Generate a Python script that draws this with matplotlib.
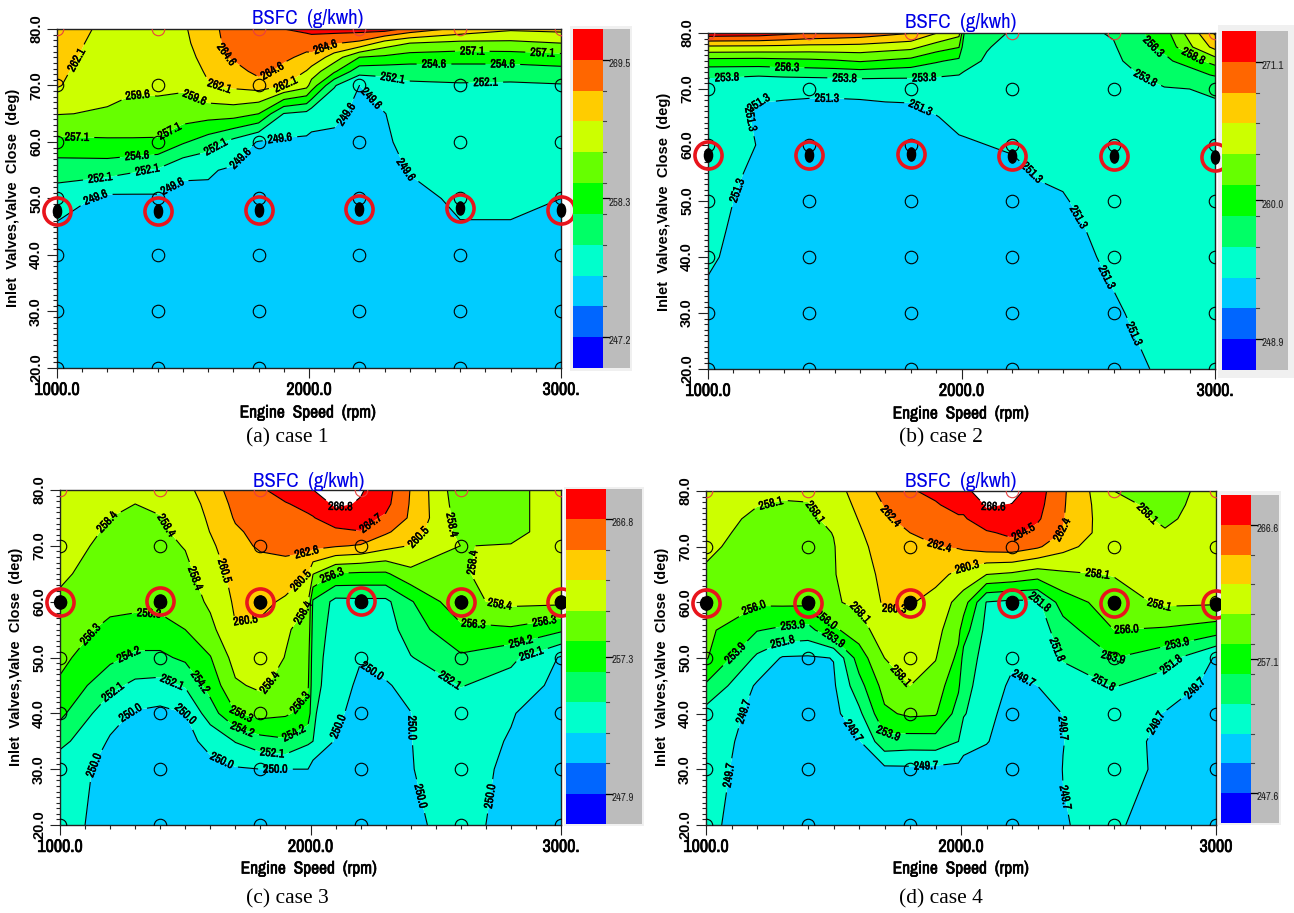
import numpy as np
import matplotlib
matplotlib.use("Agg")
import matplotlib.pyplot as plt
import matplotlib.patheffects as pe
from matplotlib.markers import MarkerStyle
from matplotlib.patches import Rectangle
from matplotlib.transforms import Affine2D

NARROW = ['Archivo Narrow', 'Roboto Condensed', 'Liberation Sans Narrow', 'Liberation Sans', 'DejaVu Sans']
plt.rcParams['font.family'] = NARROW

W, H = 1294, 913

speed = [1000, 1200, 1300, 1400, 1500, 1600, 1700, 1800, 1900, 1990, 2010, 2100, 2200, 2300, 2400, 2600, 2800, 3000]
angle = [20, 30, 35, 40, 45, 50, 55, 60, 65, 70, 72.5, 75, 77.5, 80]
grid_speed = [1000, 1400, 1800, 2200, 2600, 3000]
grid_angle = [20, 30, 40, 50, 60, 70, 80]

band_colors = ['#0000ff', '#0066ff', '#00ccff', '#00ffcc', '#00ff66', '#00ff00',
               '#66ff00', '#ccff00', '#ffcc00', '#ff6600', '#ff0000']

# values listed per engine speed, from 20 deg up to 80 deg
bsfc_a = [
    [248.6, 248.7, 248.8, 248.9, 249.3, 250.9, 253.1, 256.5, 259.7, 262.3, 262.6, 262.9, 263.2, 263.5],
    [248.6, 248.6, 248.6, 248.6, 248.9, 249.0, 253.1, 256.7, 259.4, 260.2, 260.6, 261.0, 261.2, 261.5],
    [248.6, 248.6, 248.6, 248.6, 248.9, 249.1, 252.4, 256.8, 258.8, 260.0, 260.4, 260.8, 260.9, 260.9],
    [248.6, 248.6, 248.6, 248.7, 248.9, 249.2, 251.8, 256.8, 258.6, 260.2, 260.5, 260.6, 260.6, 260.4],
    [248.6, 248.6, 248.6, 248.6, 248.8, 249.1, 249.9, 254.9, 258.4, 260.0, 260.5, 260.9, 261.3, 261.7],
    [248.6, 248.6, 248.6, 248.6, 248.8, 249.2, 249.8, 253.3, 258.2, 261.9, 262.5, 263.2, 263.9, 263.9],
    [248.6, 248.6, 248.6, 248.6, 248.7, 248.9, 249.3, 251.3, 258.2, 262.6, 263.3, 265.0, 265.2, 265.5],
    [248.6, 248.6, 248.6, 248.7, 248.8, 248.9, 249.0, 249.4, 257.1, 263.2, 265.5, 265.7, 266.0, 266.5],
    [248.6, 248.6, 248.6, 248.6, 248.7, 248.8, 248.9, 249.2, 252.0, 262.1, 263.8, 265.1, 266.0, 267.0],
    [248.6, 248.6, 248.6, 248.7, 248.7, 248.8, 248.9, 249.1, 251.4, 260.4, 262.0, 264.0, 265.6, 267.6],
    [248.6, 248.6, 248.6, 248.7, 248.7, 248.8, 248.9, 249.1, 250.5, 258.5, 261.0, 264.0, 265.7, 267.8],
    [248.6, 248.6, 248.6, 248.6, 248.7, 248.7, 248.8, 249.2, 250.0, 252.3, 257.5, 260.9, 264.8, 268.0],
    [248.6, 248.6, 248.6, 248.6, 248.7, 248.7, 248.7, 248.8, 249.2, 249.6, 253.0, 257.1, 264.0, 268.0],
    [248.6, 248.6, 248.7, 248.7, 248.8, 248.9, 249.0, 249.4, 249.55, 250.6, 253.0, 256.6, 261.0, 268.2],
    [248.6, 248.6, 248.7, 248.7, 248.8, 249.1, 249.7, 250.0, 250.5, 251.6, 253.2, 255.9, 259.6, 266.3],
    [248.6, 248.7, 248.8, 248.9, 249.5, 249.9, 250.2, 250.5, 250.9, 251.8, 253.4, 255.7, 258.9, 264.0],
    [248.7, 248.8, 248.9, 249.0, 249.5, 249.9, 250.2, 250.5, 250.9, 251.7, 253.3, 255.8, 259.0, 262.5],
    [248.7, 248.8, 248.9, 249.0, 249.2, 249.6, 250.0, 250.4, 250.9, 251.9, 253.7, 256.2, 259.6, 262.8],
]
bsfc_b = [
    [250.6, 251.0, 251.2, 251.5, 251.7, 251.9, 252.0, 252.1, 252.3, 252.8, 254.1, 257.9, 263.2, 270.3],
    [250.3, 250.4, 250.5, 250.6, 250.6, 250.7, 251.0, 251.25, 251.1, 251.5, 254.0, 257.8, 263.1, 270.0],
    [250.2, 250.3, 250.4, 250.5, 250.5, 250.6, 250.8, 251.0, 251.0, 251.5, 254.2, 258.0, 263.0, 269.3],
    [250.2, 250.3, 250.3, 250.4, 250.4, 250.5, 250.6, 250.7, 250.9, 251.5, 254.3, 258.2, 262.8, 268.6],
    [250.2, 250.3, 250.3, 250.4, 250.4, 250.4, 250.5, 250.6, 250.8, 251.55, 254.4, 258.5, 262.8, 268.2],
    [250.2, 250.3, 250.3, 250.4, 250.4, 250.4, 250.5, 250.6, 250.8, 251.6, 254.6, 259.0, 262.7, 267.8],
    [250.2, 250.2, 250.3, 250.3, 250.3, 250.4, 250.4, 250.5, 250.6, 251.9, 254.4, 258.5, 262.3, 267.0],
    [250.1, 250.2, 250.2, 250.3, 250.3, 250.3, 250.4, 250.4, 250.5, 252.1, 254.3, 258.0, 261.9, 266.3],
    [250.1, 250.1, 250.2, 250.2, 250.3, 250.3, 250.4, 250.6, 251.2, 252.7, 254.0, 256.6, 260.0, 263.8],
    [250.0, 250.1, 250.1, 250.2, 250.2, 250.3, 250.4, 250.9, 252.0, 253.2, 253.8, 255.7, 258.9, 262.0],
    [250.0, 250.1, 250.1, 250.2, 250.2, 250.3, 250.4, 251.0, 252.0, 253.1, 253.6, 254.4, 254.8, 256.4],
    [249.9, 250.0, 250.1, 250.2, 250.3, 250.5, 250.8, 251.3, 252.0, 252.8, 253.2, 253.6, 253.9, 254.5],
    [249.8, 250.0, 250.1, 250.3, 250.5, 250.7, 250.9, 251.5, 252.0, 252.6, 252.8, 253.0, 253.3, 253.6],
    [249.9, 250.2, 250.3, 250.5, 250.7, 251.0, 251.4, 251.8, 252.1, 252.5, 252.7, 252.8, 253.0, 253.2],
    [250.0, 250.3, 250.5, 250.7, 250.9, 251.2, 251.5, 251.8, 252.1, 252.4, 252.5, 252.7, 252.9, 253.0],
    [250.8, 251.1, 251.35, 251.6, 251.8, 252.0, 252.2, 252.4, 252.7, 253.0, 253.2, 253.4, 253.6, 254.0],
    [251.5, 252.0, 252.2, 252.4, 252.6, 252.8, 253.0, 253.2, 253.4, 253.7, 254.4, 255.6, 257.0, 257.8],
    [252.3, 252.7, 252.9, 253.0, 253.1, 253.2, 253.3, 253.4, 253.6, 253.9, 256.5, 259.8, 264.5, 266.5],
]
bsfc_c = [
    [250.6, 250.7, 252.7, 254.7, 256.0, 256.8, 257.4, 258.1, 258.7, 259.0, 259.2, 259.4, 259.7, 260.0],
    [249.4, 249.6, 249.8, 250.7, 252.7, 254.7, 255.8, 256.9, 257.5, 258.0, 258.2, 258.4, 258.8, 259.3],
    [249.2, 249.4, 249.5, 249.8, 251.6, 253.8, 255.4, 256.9, 257.4, 257.7, 257.9, 258.1, 258.4, 259.0],
    [249.2, 249.3, 249.4, 249.5, 251.4, 253.8, 255.4, 257.0, 257.6, 257.9, 258.1, 258.3, 258.8, 259.4],
    [249.1, 249.3, 249.5, 250.0, 252.3, 254.6, 256.3, 257.2, 257.9, 258.5, 258.9, 259.3, 259.7, 260.0],
    [249.0, 249.5, 250.5, 253.2, 255.0, 256.2, 257.8, 258.8, 259.4, 260.1, 260.55, 260.8, 261.0, 261.4],
    [248.9, 249.8, 252.2, 256.2, 258.1, 259.2, 260.4, 260.8, 261.2, 261.9, 262.3, 262.8, 263.2, 263.7],
    [248.7, 250.0, 253.4, 257.0, 258.8, 259.3, 260.1, 261.0, 261.5, 262.9, 263.2, 263.6, 264.0, 264.5],
    [248.8, 250.0, 253.9, 256.6, 257.5, 258.35, 258.6, 260.2, 261.6, 263.2, 263.6, 264.1, 264.6, 265.3],
    [248.8, 250.0, 252.4, 255.5, 256.6, 257.1, 257.8, 258.5, 260.5, 263.2, 264.0, 264.5, 265.1, 266.3],
    [248.8, 249.0, 252.1, 252.4, 252.8, 253.0, 253.4, 253.9, 258.5, 263.2, 264.0, 264.6, 265.4, 266.78],
    [248.7, 248.9, 249.8, 250.4, 250.9, 251.0, 251.2, 251.5, 256.2, 262.8, 264.3, 265.7, 267.2, 267.9],
    [248.5, 248.8, 249.0, 249.3, 249.6, 250.1, 250.7, 251.6, 256.0, 262.4, 264.65, 265.4, 266.6, 267.0],
    [249.0, 249.2, 249.3, 249.5, 249.9, 250.4, 251.0, 251.6, 256.0, 261.2, 262.9, 264.4, 265.3, 265.6],
    [249.8, 249.97, 249.98, 249.98, 250.3, 252.0, 253.2, 254.0, 257.8, 260.4, 261.5, 262.3, 262.4, 262.5],
    [250.4, 250.4, 250.6, 251.0, 252.2, 253.9, 255.8, 257.9, 258.25, 258.38, 257.8, 257.5, 257.2, 256.9],
    [249.6, 249.8, 249.9, 250.1, 251.2, 252.6, 256.0, 258.9, 259.0, 258.45, 258.1, 258.1, 258.1, 258.1],
    [248.4, 248.7, 248.9, 249.1, 249.4, 249.8, 254.6, 258.9, 259.2, 259.2, 258.9, 258.9, 258.9, 258.9],
]
bsfc_d = [
    [250.1, 250.4, 250.6, 251.0, 253.6, 256.2, 256.5, 256.9, 257.8, 258.5, 258.7, 258.8, 258.9, 259.2],
    [248.8, 248.9, 249.0, 249.2, 249.4, 251.4, 254.0, 256.3, 256.7, 257.2, 257.5, 257.8, 258.15, 258.5],
    [248.7, 248.8, 248.9, 249.0, 249.2, 249.5, 253.5, 256.4, 256.8, 257.2, 257.5, 257.7, 258.0, 258.3],
    [248.7, 248.7, 248.8, 248.9, 249.0, 249.4, 253.2, 256.4, 256.8, 257.2, 257.5, 257.7, 258.0, 258.5],
    [248.8, 248.9, 249.0, 249.1, 249.4, 249.75, 255.6, 257.9, 258.0, 258.0, 258.15, 258.6, 259.0, 259.3],
    [248.9, 249.0, 249.5, 251.3, 253.1, 254.9, 257.1, 258.5, 259.0, 259.6, 260.0, 260.4, 260.8, 261.3],
    [248.7, 249.2, 253.2, 255.6, 256.8, 258.1, 259.4, 260.6, 261.0, 261.5, 261.8, 262.1, 262.5, 263.0],
    [248.6, 249.3, 252.9, 256.4, 258.1, 258.6, 259.5, 260.5, 261.0, 261.8, 262.4, 263.0, 263.6, 264.3],
    [248.6, 249.2, 253.0, 256.2, 257.2, 258.2, 258.8, 259.5, 261.0, 262.3, 263.0, 263.6, 264.3, 265.0],
    [248.7, 249.1, 251.8, 253.0, 254.2, 255.5, 256.5, 257.5, 259.8, 262.6, 263.3, 264.2, 265.2, 266.2],
    [248.8, 249.0, 250.4, 252.0, 252.6, 253.2, 254.9, 257.0, 259.5, 262.8, 263.5, 264.2, 265.2, 266.4],
    [248.6, 248.8, 249.8, 250.2, 250.6, 250.9, 251.2, 251.7, 258.1, 263.4, 264.2, 266.1, 266.75, 267.0],
    [248.4, 248.6, 248.8, 249.0, 249.4, 250.0, 250.6, 251.3, 257.7, 263.6, 265.0, 265.8, 266.5, 267.4],
    [248.8, 249.0, 249.1, 249.3, 249.7, 250.2, 250.7, 251.4, 256.9, 262.7, 263.8, 264.8, 265.2, 265.5],
    [249.65, 249.72, 249.68, 249.72, 250.6, 252.0, 252.9, 254.9, 257.7, 261.0, 262.3, 262.5, 262.6, 262.7],
    [250.0, 250.3, 250.4, 250.8, 251.9, 253.9, 256.0, 257.1, 258.2, 258.7, 258.8, 258.7, 258.5, 258.1],
    [248.7, 249.4, 249.3, 249.6, 250.8, 252.6, 255.7, 258.5, 258.9, 258.6, 258.2, 257.9, 257.7, 257.5],
    [248.3, 248.5, 248.6, 248.8, 249.1, 249.5, 254.9, 258.4, 258.5, 258.6, 258.6, 258.7, 258.7, 258.7],
]

levels_a = [242.2, 244.7, 247.2, 249.6, 252.1, 254.6, 257.1, 259.6, 262.1, 264.6, 267.0, 269.5]
levels_b = [244.0, 246.5, 248.9, 251.3, 253.8, 256.3, 258.8, 261.2, 263.7, 266.2, 268.6, 271.1]
levels_c = [243.7, 245.8, 247.9, 250.0, 252.1, 254.2, 256.3, 258.4, 260.5, 262.6, 264.7, 266.8]
levels_d = [243.4, 245.5, 247.6, 249.7, 251.8, 253.9, 256.0, 258.1, 260.3, 262.4, 264.5, 266.6]

bar_labels_a = ['247.2', '258.3', '269.5']
bar_labels_b = ['248.9', '260.0', '271.1']
bar_labels_c = ['247.9', '257.3', '266.8']
bar_labels_d = ['247.6', '257.1', '266.6']

oper_a = [47.8, 47.8, 48.0, 48.2, 48.4, 48.0]
oper_b = [58.2, 58.2, 58.4, 58.1, 58.0, 57.9]
oper_c = [60.0, 60.2, 60.0, 60.1, 59.9, 59.9]
oper_d = [59.8, 59.8, 59.9, 59.9, 59.9, 59.7]

labels_a = [(1100, 73.9), (1152, 50.4), (1448, 53), (1699, 58.3), (1884, 60.8), (2180, 63.6), (2248, 67.7),
            (2394, 55.3), (1170, 54.2), (1359, 54.9), (1626, 59.4), (2334, 71.8), (2701, 71.3), (1319, 56.8),
            (2496, 73.9), (2769, 74.1), (1079, 60.5), (1448, 61.8), (2648, 76), (2927, 76), (1319, 67.1),
            (1540, 67.2), (1642, 69.2), (1900, 70.7), (1669, 75.4), (1847, 73), (2059, 77.5)]
labels_b = [(1076, 70.7), (1539, 72), (1853, 72.3), (2720, 71.4), (1312, 73.5), (2755, 77.5), (2912, 75.6),
            (1188, 68.5), (1146, 64.4), (1100, 52.1), (1469, 69.6), (1849, 67.7), (2281, 55.2), (2476, 47.5),
            (2578, 36.5), (2671, 26.1)]
labels_c = [(1181, 74.5), (1432, 73.8), (1542, 64.2), (1970, 58), (2577, 73.8), (2618, 67.2), (2756, 59.6),
            (1841, 45.4), (1611, 64.8), (1743, 56.2), (1958, 63.9), (2417, 72.2), (1987, 68.4), (2246, 73.7),
            (2121, 76.8), (1122, 54.1), (1355, 57.3), (2088, 64.5), (2650, 55.6), (2935, 56.1), (1722, 39.5),
            (1950, 42.2), (1279, 50.2), (1564, 45.7), (1722, 36.2), (1933, 36.5), (2838, 53.2), (1208, 44),
            (1445, 45.3), (1849, 33.9), (2544, 45), (2878, 51.1), (1270, 41), (1502, 39.9), (1645, 31.4),
            (1860, 29.9), (2116, 37.5), (1119, 31.1), (2248, 47.7), (2412, 37.4), (2406, 24.8), (2723, 25.1)]
labels_d = [(1253, 78), (1433, 76.3), (1591, 57.8), (1755, 46.4), (2697, 74.5), (2536, 65.2), (2777, 59.4),
            (2026, 65.9), (2444, 72.5), (1739, 58.4), (1723, 75.4), (1913, 69.7), (2249, 72.3), (2130, 76.6),
            (1200, 58.1), (1470, 56.8), (2649, 55.4), (1111, 51), (1341, 55.4), (1500, 53.5), (1715, 35.6),
            (2595, 50), (2845, 53.1), (1299, 53.9), (2319, 60.7), (2396, 51.8), (2552, 44.9), (2829, 48.6),
            (1092, 41.3), (1079, 29), (1583, 37.1), (1863, 30.8), (2257, 47.3), (2410, 37.4), (2407, 24.9),
            (2753, 38.6), (2906, 45.2)]

fig = plt.figure(figsize=(W / 100, H / 100), dpi=100, facecolor='white')


def heavy(width):
    return [pe.withStroke(linewidth=width, foreground='black')]


def px_axes(left, top, right, bottom, **kw):
    return fig.add_axes([left / W, 1 - bottom / H, (right - left) / W, (bottom - top) / H], **kw)


def fig_text(x, y, s, **kw):
    return fig.text(x / W, 1 - y / H, s, ha='center', va='center', **kw)


def panel(box, bar_box, halo_box, values, levels, bar_labels, oper, label_pts, last_tick,
          title_xy, xlabel_xy, ylabel_xy, caption_xy, caption, dot_w):
    ax = px_axes(*box)
    z = np.array(values).T
    ax.contourf(speed, angle, z, levels=levels, colors=band_colors, antialiased=True)
    cs = ax.contour(speed, angle, z, levels=levels[3:], colors='black', linewidths=0.8)
    txt = ax.clabel(cs, manual=label_pts, fmt='%.1f', fontsize=8.6, inline=True)
    for t in txt:
        t.set_zorder(6)
        t.set_path_effects(heavy(0.35))
    gx, gy = np.meshgrid(grid_speed, grid_angle)
    ax.plot(gx[:-1].ravel(), gy[:-1].ravel(), ls='none', marker='o', ms=9, mfc='none',
            mec='black', mew=0.8, zorder=4)
    ax.plot(gx[-1], gy[-1], ls='none', marker='o', ms=9, mfc='none', mec='#e84040', mew=0.8, zorder=4)
    dot = MarkerStyle('o', transform=Affine2D().scale(dot_w, 1.0))
    ax.plot(grid_speed, oper, ls='none', marker=dot, ms=9.5, mfc='black', mec='black',
            clip_on=False, zorder=7)
    ax.plot(grid_speed, oper, ls='none', marker='o', ms=19.5, mfc='none', mec='#e8141c', mew=2.6,
            clip_on=False, zorder=8)
    ax.set_xlim(1000, 3000)
    ax.set_ylim(20, 80)
    ax.set_xticks([1000, 2000, 3000])
    ax.set_xticklabels(['1000.0', '2000.0', last_tick], fontsize=13)
    for t in ax.get_xticklabels():
        t.set_path_effects(heavy(0.5))
    ax.set_xticks(np.arange(1000, 3001, 100), minor=True)
    ax.set_yticks(grid_angle)
    ax.set_yticklabels([f'{v:.1f}' for v in grid_angle], rotation=90, va='center',
                       family=['Liberation Sans'], fontsize=10.5, fontweight='bold')
    ax.set_yticks(np.arange(20, 81, 1), minor=True)
    ax.tick_params(which='major', length=7, width=0.8, pad=3, color='#222222')
    ax.tick_params(which='minor', length=3.2, width=0.8, color='#222222')
    for s in ax.spines.values():
        s.set_linewidth(1.0)
        s.set_color('#222222')

    fig.add_artist(Rectangle((halo_box[0] / W, 1 - halo_box[3] / H), (halo_box[2] - halo_box[0]) / W,
                             (halo_box[3] - halo_box[1]) / H, transform=fig.transFigure,
                             fc='#f0f0f0', ec='none', zorder=-1))
    bar = px_axes(bar_box[0], bar_box[1], bar_box[3], bar_box[4], facecolor='#bcbcbc')
    bar.set_xlim(bar_box[0], bar_box[3])
    bar.set_ylim(0, 11)
    for k, c in enumerate(band_colors):
        bar.barh(k + 0.5, bar_box[2] - bar_box[0], left=bar_box[0], height=1, color=c)
    bar.set_xticks([])
    bar.set_yticks([])
    for s in bar.spines.values():
        s.set_visible(False)
    for k in range(1, 11):
        bar.plot([bar_box[2], bar_box[2] + 3], [k, k], color='#444444', lw=0.8)
    for pos, lab in zip([1, 5.5, 10], bar_labels):
        bar.plot([bar_box[2], bar_box[2] + 6], [pos, pos], color='black', lw=0.9)
        bar.text(bar_box[2] + 6, pos - 0.13, lab, fontsize=7.8, color='#222222', va='center', ha='left', clip_on=True)

    fig_text(*title_xy, 'BSFC  (g/kwh)', color='#0000e6', fontsize=15)
    t = fig_text(*xlabel_xy, 'Engine  Speed  (rpm)', color='black', fontsize=12.5)
    t.set_path_effects(heavy(0.45))
    fig_text(*ylabel_xy, 'Inlet  Valves,Valve  Close  (deg)', color='black', rotation=90,
             family=['Liberation Sans'], fontsize=10.5, fontweight='bold')
    fig_text(*caption_xy, caption, family=['Liberation Serif'], color='black', fontsize=15.5)


panel((57, 29, 561, 368), (573, 29, 603, 630, 368), (570, 26, 632, 371), bsfc_a, levels_a, bar_labels_a, oper_a,
      labels_a, '3000.', (308, 18), (308, 413), (13, 198), (287, 438), '(a) case 1', 0.62)
panel((708, 33, 1215, 369), (1222, 31, 1256, 1288, 370), (1218, 25, 1294, 378), bsfc_b, levels_b, bar_labels_b, oper_b,
      labels_b, '3000.', (961, 23), (961, 414), (664, 202), (941, 438), '(b) case 2', 0.62)
panel((60, 490, 561, 825), (566, 489, 606, 642, 824), (564, 487, 644, 826), bsfc_c, levels_c, bar_labels_c, oper_c,
      labels_c, '3000.', (309, 481), (309, 869), (16, 657), (287, 899), '(c) case 3', 0.9)
panel((706, 491, 1216, 825), (1221, 495, 1251, 1279, 823), (1218, 491, 1281, 825), bsfc_d, levels_d, bar_labels_d, oper_d,
      labels_d, '3000', (961, 481), (961, 869), (662, 657), (941, 899), '(d) case 4', 0.9)

fig.savefig('out.png', dpi=100)
